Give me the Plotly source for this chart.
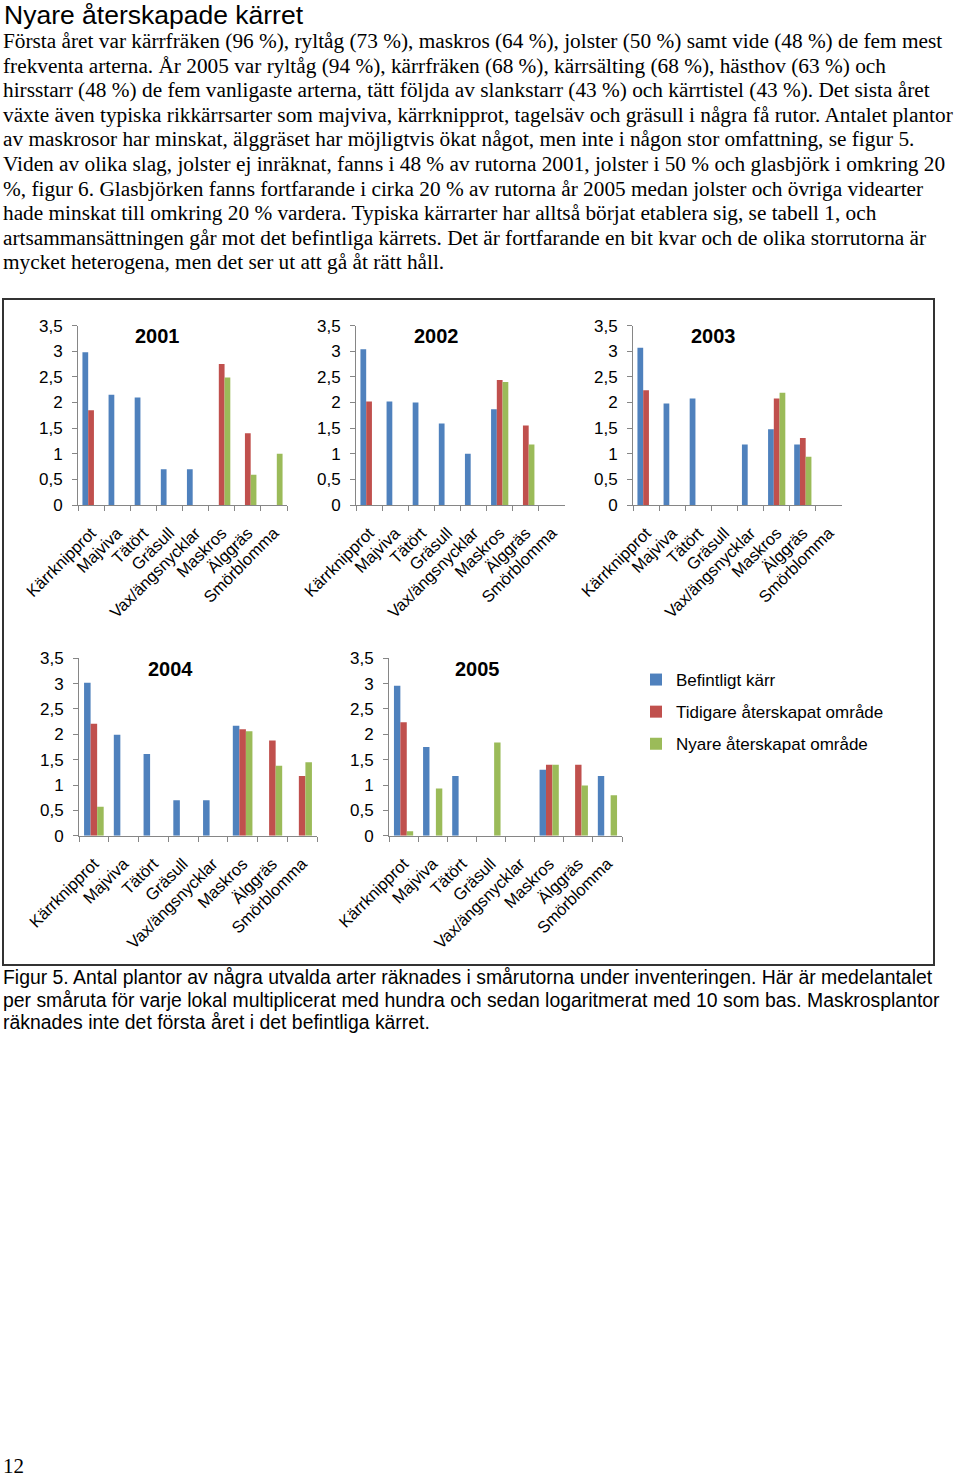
import plotly.graph_objects as go

W, H = 960, 1479

categories = ["Kärrknipprot", "Majviva", "Tätört", "Gräsull", "Vax/ängsnycklar",
              "Maskros", "Älggräs", "Smörblomma"]
series_names = ["Befintligt kärr", "Tidigare återskapat område", "Nyare återskapat område"]
series_colors = ["#4F81BD", "#C0504D", "#9BBB59"]
years = ["2001", "2002", "2003", "2004", "2005"]

befintligt_2001 = [2.98, 2.15, 2.10, 0.70, 0.70, None, None, None]
tidigare_2001 = [1.85, None, None, None, None, 2.75, 1.40, None]
nyare_2001 = [None, None, None, None, None, 2.49, 0.59, 1.00]

befintligt_2002 = [3.04, 2.02, 2.00, 1.59, 1.00, 1.87, None, None]
tidigare_2002 = [2.02, None, None, None, None, 2.44, 1.55, None]
nyare_2002 = [None, None, None, None, None, 2.40, 1.18, None]

befintligt_2003 = [3.07, 1.98, 2.08, None, 1.18, 1.48, 1.18, None]
tidigare_2003 = [2.24, None, None, None, None, 2.08, 1.31, None]
nyare_2003 = [None, None, None, None, None, 2.19, 0.94, None]

befintligt_2004 = [3.02, 1.99, 1.61, 0.70, 0.70, 2.17, None, None]
tidigare_2004 = [2.21, None, None, None, None, 2.10, 1.88, 1.18]
nyare_2004 = [0.57, None, None, None, None, 2.06, 1.38, 1.45]

befintligt_2005 = [2.96, 1.75, 1.18, None, None, 1.30, None, 1.18]
tidigare_2005 = [2.24, None, None, None, None, 1.40, 1.40, None]
nyare_2005 = [0.09, 0.93, None, 1.84, None, 1.40, 0.99, 0.80]

year_series = {
    "2001": [befintligt_2001, tidigare_2001, nyare_2001],
    "2002": [befintligt_2002, tidigare_2002, nyare_2002],
    "2003": [befintligt_2003, tidigare_2003, nyare_2003],
    "2004": [befintligt_2004, tidigare_2004, nyare_2004],
    "2005": [befintligt_2005, tidigare_2005, nyare_2005],
}

heading = "Nyare återskapade kärret"
body_lines = [
    "Första året var kärrfräken (96 %), ryltåg (73 %), maskros (64 %), jolster (50 %) samt vide (48 %) de fem mest",
    "frekventa arterna. År 2005 var ryltåg (94 %), kärrfräken (68 %), kärrsälting (68 %), hästhov (63 %) och",
    "hirsstarr (48 %) de fem vanligaste arterna, tätt följda av slankstarr (43 %) och kärrtistel (43 %). Det sista året",
    "växte även typiska rikkärrsarter som majviva, kärrknipprot, tagelsäv och gräsull i några få rutor. Antalet plantor",
    "av maskrosor har minskat, älggräset har möjligtvis ökat något, men inte i någon stor omfattning, se figur 5.",
    "Viden av olika slag, jolster ej inräknat, fanns i 48 % av rutorna 2001, jolster i 50 % och glasbjörk i omkring 20",
    "%, figur 6. Glasbjörken fanns fortfarande i cirka 20 % av rutorna år 2005 medan jolster och övriga videarter",
    "hade minskat till omkring 20 % vardera. Typiska kärrarter har alltså börjat etablera sig, se tabell 1, och",
    "artsammansättningen går mot det befintliga kärrets. Det är fortfarande en bit kvar och de olika storrutorna är",
    "mycket heterogena, men det ser ut att gå åt rätt håll.",
]
caption_lines = [
    "Figur 5. Antal plantor av några utvalda arter räknades i smårutorna under inventeringen. Här är medelantalet",
    "per småruta för varje lokal multiplicerat med hundra och sedan logaritmerat med 10 som bas. Maskrosplantor",
    "räknades inte det första året i det befintliga kärret.",
]
page_number = "12"


def px(x):
    return x / W


def py(y):
    return 1 - y / H


# panel layout in pixels: (x0, x1, y_top(3.5), y_bottom(0)), title centre
panels = {
    "2001": ((78, 287, 325.7, 505.0), (157, 336)),
    "2002": ((356, 565, 325.7, 505.0), (436, 336)),
    "2003": ((633, 842, 325.7, 505.0), (713, 336)),
    "2004": ((79, 317, 658.3, 835.7), (170, 669)),
    "2005": ((389, 622, 658.3, 835.7), (477, 669)),
}

SANS = "Liberation Sans, Arial, sans-serif"
SERIF = "Liberation Serif, Times New Roman, serif"
AXIS_COL = "#868686"

fig = go.Figure()
annotations = []
layout_axes = {}

for i, yr in enumerate(years):
    n = "" if i == 0 else str(i + 1)
    (x0, x1, yt, yb), (tx, ty) = panels[yr]
    for s, (name, col) in enumerate(zip(series_names, series_colors)):
        fig.add_trace(go.Bar(
            x=categories, y=year_series[yr][s], name=name,
            marker=dict(color=col, line=dict(width=0)),
            xaxis="x" + n, yaxis="y" + n,
            showlegend=(i == 0), legendgroup=name,
        ))
    layout_axes["xaxis" + n] = dict(
        domain=[px(x0), px(x1)], anchor="y" + n, type="category",
        categoryorder="array", categoryarray=categories, automargin=False,
        showline=True, linecolor=AXIS_COL, linewidth=1,
        ticks="outside", tickson="boundaries", ticklen=5, tickcolor=AXIS_COL,
        ticklabelstandoff=11,
        tickangle=-45, tickfont=dict(family=SANS, size=16.5, color="#000"),
        showgrid=False, zeroline=False, fixedrange=True,
    )
    layout_axes["yaxis" + n] = dict(
        domain=[py(yb), py(yt)], anchor="x" + n, range=[0, 3.5], dtick=0.5,
        automargin=False,
        showline=True, linecolor=AXIS_COL, linewidth=1,
        ticks="outside", ticklen=5, tickcolor=AXIS_COL,
        ticklabelstandoff=6,
        tickfont=dict(family=SANS, size=17, color="#000"),
        showgrid=False, zeroline=False, fixedrange=True,
    )
    annotations.append(dict(
        text="<b>" + yr + "</b>", x=px(tx), y=py(ty), xref="paper", yref="paper",
        xanchor="center", yanchor="middle", showarrow=False,
        font=dict(family=SANS, size=20, color="#000"),
    ))

annotations.append(dict(
    text=heading, x=px(2), y=py(15), xref="paper", yref="paper",
    xanchor="left", yanchor="middle", showarrow=False,
    font=dict(family=SANS, size=26.5, color="#000"),
))
for k, line in enumerate(body_lines):
    annotations.append(dict(
        text=line, x=px(1), y=py(41 + k * 24.6), xref="paper", yref="paper",
        xanchor="left", yanchor="middle", showarrow=False,
        font=dict(family=SERIF, size=21.3, color="#000"),
    ))
for k, line in enumerate(caption_lines):
    annotations.append(dict(
        text=line, x=px(1), y=py(977 + k * 22.5), xref="paper", yref="paper",
        xanchor="left", yanchor="middle", showarrow=False,
        font=dict(family=SANS, size=19.4, color="#000"),
    ))
annotations.append(dict(
    text=page_number, x=px(1), y=py(1466), xref="paper", yref="paper",
    xanchor="left", yanchor="middle", showarrow=False,
    font=dict(family=SERIF, size=21, color="#000"),
))

fig.update_layout(
    width=W, height=H,
    margin=dict(l=0, r=0, t=0, b=0, pad=0, autoexpand=False),
    paper_bgcolor="white", plot_bgcolor="white",
    separators=", ",
    barmode="group", bargap=0.34, bargroupgap=0,
    annotations=annotations,
    shapes=[dict(type="rect", xref="paper", yref="paper",
                 x0=px(3), x1=px(934), y0=py(965), y1=py(299),
                 line=dict(color="#333", width=2), fillcolor="rgba(0,0,0,0)")],
    legend=dict(x=px(636), y=py(662), xanchor="left", yanchor="top",
                font=dict(family=SANS, size=17, color="#000"),
                bgcolor="rgba(0,0,0,0)", tracegroupgap=7, itemclick=False),
    showlegend=True,
    **layout_axes,
)

fig.write_html(
    "out.html",
    config={"displayModeBar": False},
    post_script="document.body.style.margin='0';document.body.style.overflow='hidden';",
)
